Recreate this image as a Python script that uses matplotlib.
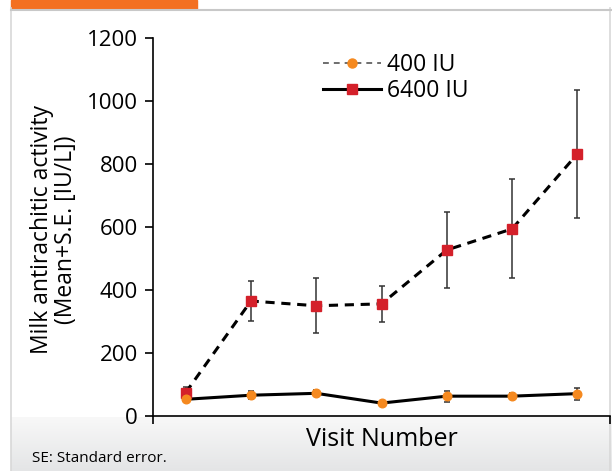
import numpy as np
import matplotlib
matplotlib.use('Agg')
import matplotlib.pyplot as plt
from matplotlib.lines import Line2D

plt.rcParams['font.family'] = ['Open Sans', 'DejaVu Sans']

# Data
visits = [1, 2, 3, 4, 5, 6, 7]
iu400_mean = [53, 66, 72, 41, 63, 63, 71]
iu400_se = [10, 12, 10, 6, 17, 10, 19]
iu6400_mean = [74, 365, 350, 356, 527, 594, 832]
iu6400_se = [18, 63, 88, 58, 121, 157, 203]

W, H = 612, 471
fig = plt.figure(figsize=(W / 100, H / 100), dpi=100)

# Page decoration: grey footer gradient, borders, orange tab
bg = fig.add_axes([11 / W, 0, 1 - 11 / W, 54 / H], zorder=0)
grad = np.linspace(0, 1, 100).reshape(-1, 1)
bg.imshow(grad, aspect='auto', cmap=matplotlib.colors.LinearSegmentedColormap.from_list(
    'g', ['#e4e5e6', '#f8f8f8']), origin='lower', extent=[0, 1, 0, 1])
bg.axis('off')
fig.add_artist(Line2D([11 / W, 11 / W], [0, 1 - 8 / H], color='#d8d8d8', lw=1.2))
fig.add_artist(Line2D([610 / W, 610 / W], [0, 1 - 8 / H], color='#d8d8d8', lw=1.2))
fig.add_artist(Line2D([11 / W, 1], [1 - 9.5 / H, 1 - 9.5 / H], color='#c8c8c8', lw=1.5))
fig.add_artist(plt.Rectangle((11 / W, 1 - 9 / H), 186 / W, 9 / H,
                             color='#f37021', transform=fig.transFigure))

ax = fig.add_axes([153 / W, 55 / H, 457 / W, 378 / H], zorder=2)
ax.patch.set_alpha(0)
x = np.arange(len(visits))

# 6400 IU: red squares, dashed line
ax.errorbar(x, iu6400_mean, yerr=iu6400_se, fmt='none', ecolor='#333333',
            elinewidth=1.1, capsize=2.4, capthick=1.1, zorder=2)
ax.plot(x, iu6400_mean, color='black', lw=2.2, ls=(0, (3, 2.2)), zorder=3)
ax.plot(x, iu6400_mean, ls='none', marker='s', ms=7.5, color='#d4202a', zorder=4)

# 400 IU: orange circles, solid line
ax.errorbar(x, iu400_mean, yerr=iu400_se, fmt='none', ecolor='#333333',
            elinewidth=1.1, capsize=2.4, capthick=1.1, zorder=2)
ax.plot(x, iu400_mean, color='black', lw=2.2, zorder=3)
ax.plot(x, iu400_mean, ls='none', marker='o', ms=6.2, color='#f5891f', zorder=4)

ax.set_xlim(-0.5, 6.5)
ax.set_ylim(0, 1200)
ax.set_yticks(range(0, 1201, 200))
ax.set_xticks([-0.5, 6.5])
ax.set_xticklabels([])
ax.tick_params(axis='x', direction='out', length=6, width=1.2)
ax.tick_params(axis='y', direction='out', length=6, width=1.2, labelsize=16, pad=5)
for s in ['top', 'right']:
    ax.spines[s].set_visible(False)
for s in ['left', 'bottom']:
    ax.spines[s].set_linewidth(1.2)

fig.text(381.5 / W, 1 - 440 / H, 'Visit Number', fontsize=18, ha='center', va='center')
fig.text(54 / W, 1 - 230 / H, 'Milk antirachitic activity\n(Mean+S.E. [IU/L])',
         fontsize=16.5, rotation=90, ha='center', va='center',
         multialignment='center', linespacing=1.0)

# Legend as it appears in the original figure
handles = [
    Line2D([], [], color='#555555', lw=1.2, ls=(0, (3.5, 3)), marker='o', ms=6.5,
           markerfacecolor='#f5891f', markeredgecolor='#f5891f'),
    Line2D([], [], color='black', lw=2.2, marker='s', ms=7.5,
           markerfacecolor='#d4202a', markeredgecolor='#d4202a'),
]
fig.legend(handles, ['400 IU', '6400 IU'], loc='upper left',
           bbox_to_anchor=(302 / W, 1 - 32 / H), frameon=False, fontsize=16.5,
           handlelength=2.53, handletextpad=0.26, labelspacing=0.1,
           borderpad=0.4)

fig.text(32 / W, 1 - 458 / H, 'SE: Standard error.', fontsize=11, va='center')

fig.savefig('out.png', dpi=100)
